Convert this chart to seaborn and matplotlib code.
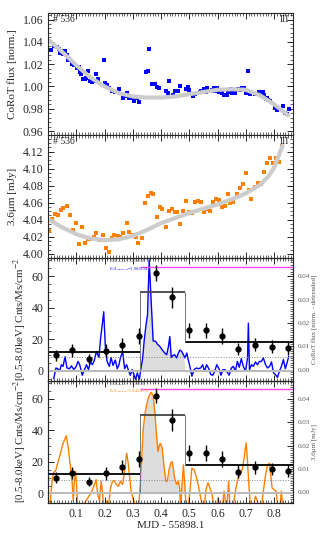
import matplotlib
matplotlib.use("Agg")
import matplotlib.pyplot as plt
from matplotlib.ticker import MultipleLocator, FixedLocator
import seaborn as sns
import numpy as np

# ---- CoRoT optical light curve (panel 1) ----
corot_t = [0.012, 0.022, 0.030, 0.038, 0.044, 0.050, 0.053, 0.060, 0.066, 0.071,
           0.083, 0.093, 0.102, 0.108, 0.113, 0.118, 0.124, 0.131, 0.136, 0.143,
           0.148, 0.155, 0.168, 0.171, 0.177, 0.197, 0.203, 0.209, 0.216, 0.228,
           0.236, 0.246, 0.251, 0.266, 0.272, 0.280, 0.287, 0.296, 0.304, 0.314,
           0.322, 0.346, 0.353, 0.358, 0.369, 0.377, 0.387, 0.394, 0.416, 0.424,
           0.428, 0.442, 0.448, 0.459, 0.466, 0.489, 0.495, 0.500, 0.512, 0.520,
           0.528, 0.537, 0.540, 0.552, 0.558, 0.564, 0.571, 0.579, 0.587, 0.591,
           0.599, 0.605, 0.611, 0.617, 0.624, 0.632, 0.637, 0.647, 0.651, 0.661,
           0.673, 0.678, 0.687, 0.695, 0.702, 0.708, 0.716, 0.733, 0.746, 0.753,
           0.760, 0.765, 0.770, 0.774, 0.780, 0.787, 0.803, 0.812, 0.819, 0.831,
           0.838, 0.845, 0.852]
corot_f = [1.0324, 1.0367, 1.0355, 1.0336, 1.0296, 1.0320, 1.0293, 1.0320, 1.0278, 1.0238,
           1.0200, 1.0190, 1.0167, 1.0173, 1.0130, 1.0115, 1.0070, 1.0070, 1.0078, 1.0137,
           1.0051, 1.0044, 1.0047, 1.0112, 1.0070, 1.0238, 1.0029, 1.0014, 0.9990, 0.9955,
           0.9946, 0.9946, 0.9977, 0.9900, 0.9916, 0.9943, 0.9894, 0.9900, 0.9870, 0.9900,
           0.9860, 1.0128, 1.0140, 1.0340, 1.0026, 1.0026, 0.9998, 0.9990, 0.9959, 0.9943,
           1.0051, 0.9919, 0.9959, 0.9959, 1.0002, 0.9977, 0.9998, 0.9965, 0.9913, 0.9934,
           0.9943, 0.9950, 0.9955, 0.9974, 0.9947, 0.9983, 0.9962, 0.9968, 0.9983, 0.9962,
           0.9986, 0.9953, 0.9971, 0.9940, 0.9925, 0.9925, 0.9950, 0.9977, 0.9943, 0.9940,
           0.9977, 0.9971, 0.9983, 0.9990, 0.9943, 1.0140, 0.9928, 0.9928, 0.9947, 0.9937,
           0.9947, 0.9922, 0.9888, 0.9900, 0.9876, 0.9870, 0.9806, 0.9784, 0.9800, 0.9824,
           0.9763, 0.9756, 0.9793]
corot_trend_t = [0.005, 0.05, 0.10, 0.15, 0.20, 0.25, 0.30, 0.35, 0.40, 0.45,
                 0.50, 0.55, 0.60, 0.65, 0.70, 0.75, 0.80, 0.85]
corot_trend_f = [1.041, 1.031, 1.019, 1.008, 1.000, 0.994, 0.991, 0.990, 0.990, 0.991,
                 0.993, 0.995, 0.997, 0.9975, 0.997, 0.992, 0.984, 0.974]

# ---- Spitzer 3.6um light curve (panel 2) ----
irac_t = [0.004, 0.014, 0.024, 0.034, 0.045, 0.054, 0.066, 0.077, 0.087, 0.099,
          0.109, 0.119, 0.130, 0.141, 0.150, 0.161, 0.171, 0.183, 0.194, 0.204,
          0.216, 0.225, 0.235, 0.246, 0.256, 0.267, 0.278, 0.288, 0.299, 0.310,
          0.320, 0.331, 0.342, 0.352, 0.363, 0.373, 0.384, 0.395, 0.405, 0.416,
          0.427, 0.437, 0.448, 0.457, 0.468, 0.479, 0.489, 0.500, 0.511, 0.521,
          0.532, 0.542, 0.552, 0.563, 0.573, 0.584, 0.595, 0.604, 0.616, 0.625,
          0.637, 0.645, 0.656, 0.668, 0.678, 0.689, 0.700, 0.710, 0.720, 0.732,
          0.742, 0.753, 0.764, 0.774, 0.785, 0.796, 0.806, 0.817, 0.827]
irac_f = [4.0263, 4.0407, 4.0473, 4.0460, 4.0511, 4.0542, 4.0558, 4.0453, 4.0283, 4.0356,
          4.0109, 4.0314, 4.0124, 4.0171, 4.0174, 4.0194, 4.0248, 4.0159, 4.0225, 4.0066,
          4.0020, 4.0182, 4.0221, 4.0213, 4.0198, 4.0244, 4.0356, 4.0256, 4.0221, 4.0194,
          4.0132, 4.0190, 4.0596, 4.0674, 4.0712, 4.0701, 4.0430, 4.0550, 4.0527, 4.0318,
          4.0507, 4.0527, 4.0488, 4.0488, 4.0349, 4.0503, 4.0623, 4.0496, 4.0480, 4.0612,
          4.0620, 4.0608, 4.0488, 4.0527, 4.0503, 4.0608, 4.0643, 4.0627, 4.0554, 4.0566,
          4.0705, 4.0593, 4.0608, 4.0705, 4.0774, 4.0825, 4.0945, 4.0755, 4.0643, 4.0790,
          4.0836, 4.0817, 4.0956, 4.1065, 4.1123, 4.1072, 4.1130, 4.1080, 4.1270]
irac_trend_t = [0.005, 0.05, 0.10, 0.15, 0.20, 0.25, 0.30, 0.35, 0.40, 0.45,
                0.50, 0.55, 0.60, 0.65, 0.70, 0.75, 0.78, 0.80, 0.83]
irac_trend_f = [4.040, 4.031, 4.023, 4.018, 4.016, 4.017, 4.021, 4.028, 4.036, 4.042,
                4.048, 4.053, 4.058, 4.064, 4.071, 4.081, 4.091, 4.101, 4.127]

# ---- detrended CoRoT (panel 3, right axis) ----
corot_dt_t = [0.020, 0.028, 0.034, 0.041, 0.047, 0.053, 0.060, 0.067, 0.076, 0.083,
              0.091, 0.098, 0.106, 0.112, 0.121, 0.129, 0.136, 0.143, 0.150, 0.157,
              0.164, 0.171, 0.180, 0.186, 0.191, 0.197, 0.203, 0.209, 0.217, 0.223,
              0.230, 0.238, 0.245, 0.251, 0.256, 0.264, 0.271, 0.278, 0.284, 0.291,
              0.298, 0.304, 0.310, 0.316, 0.323, 0.329, 0.335, 0.340, 0.346, 0.352,
              0.358, 0.365, 0.372, 0.381, 0.387, 0.396, 0.404, 0.413, 0.420, 0.426,
              0.431, 0.436, 0.442, 0.448, 0.455, 0.461, 0.467, 0.473, 0.479, 0.485,
              0.491, 0.496, 0.502, 0.509, 0.517, 0.525, 0.532, 0.540, 0.547, 0.554,
              0.561, 0.569, 0.576, 0.583, 0.590, 0.597, 0.605, 0.612, 0.619, 0.626,
              0.634, 0.641, 0.649, 0.656, 0.663, 0.670, 0.677, 0.684, 0.691, 0.699,
              0.706, 0.709, 0.713, 0.720, 0.727, 0.734, 0.741, 0.748, 0.755, 0.762,
              0.770, 0.777, 0.784, 0.791, 0.798, 0.805, 0.812, 0.819, 0.826, 0.833,
              0.840, 0.848, 0.852]
corot_dt_f = [-0.0038, 0.0007, 0.0004, -0.0007, 0.0021, 0.0014, 0.0055, 0.0007, 0.0004, 0.0016,
              0.0001, 0.0010, 0.0035, 0.0021, -0.0024, 0.0000, 0.0021, 0.0000, 0.0033, 0.0021,
              0.0040, 0.0078, 0.0052, 0.0135, 0.0184, 0.0248, 0.0092, 0.0035, 0.0014, 0.0052,
              0.0018, 0.0041, 0.0004, 0.0021, 0.0050, 0.0078, 0.0004, 0.0021, -0.0001, -0.0024,
              0.0000, -0.0021, -0.0043, -0.0014, -0.0043, 0.0007, 0.0050, 0.0121, 0.0184, 0.0234,
              0.0470, 0.0291, 0.0123, 0.0121, 0.0109, 0.0099, 0.0085, 0.0071, 0.0064, 0.0099,
              0.0142, 0.0052, 0.0061, 0.0064, 0.0050, 0.0071, 0.0084, 0.0078, 0.0064, 0.0050,
              0.0071, 0.0043, 0.0014, -0.0028, 0.0000, 0.0007, 0.0004, 0.0007, 0.0021, -0.0007,
              0.0021, 0.0004, -0.0021, -0.0024, -0.0007, 0.0021, 0.0004, -0.0024, 0.0000, 0.0000,
              -0.0010, -0.0024, 0.0007, 0.0014, -0.0007, 0.0035, 0.0010, 0.0047, 0.0014, -0.0007,
              0.0050, 0.0199, 0.0000, 0.0021, 0.0014, 0.0033, 0.0021, 0.0035, 0.0035, 0.0050,
              0.0021, 0.0007, 0.0014, 0.0033, -0.0014, -0.0021, -0.0033, -0.0007, 0.0014, 0.0043,
              0.0004, 0.0038, 0.0057]

# ---- detrended 3.6um (panel 4, right axis) ----
irac_dt_t = [0.006, 0.014, 0.020, 0.026, 0.034, 0.044, 0.053, 0.064, 0.071, 0.077,
             0.082, 0.085, 0.089, 0.093, 0.098, 0.102, 0.105, 0.110, 0.115, 0.121,
             0.126, 0.134, 0.141, 0.148, 0.155, 0.162, 0.170, 0.176, 0.182, 0.188,
             0.193, 0.197, 0.207, 0.215, 0.221, 0.228, 0.235, 0.242, 0.249, 0.256,
             0.264, 0.271, 0.278, 0.283, 0.288, 0.294, 0.300, 0.306, 0.313, 0.320,
             0.327, 0.332, 0.337, 0.344, 0.351, 0.358, 0.365, 0.372, 0.378, 0.384,
             0.389, 0.394, 0.398, 0.404, 0.410, 0.417, 0.422, 0.428, 0.434, 0.439,
             0.443, 0.448, 0.455, 0.461, 0.466, 0.469, 0.474, 0.479, 0.483, 0.488,
             0.495, 0.502, 0.509, 0.517, 0.524, 0.531, 0.538, 0.545, 0.552, 0.559,
             0.566, 0.573, 0.580, 0.587, 0.595, 0.602, 0.609, 0.616, 0.623, 0.628,
             0.632, 0.639, 0.644, 0.651, 0.658, 0.665, 0.673, 0.680, 0.687, 0.694,
             0.701, 0.706, 0.710, 0.715, 0.720, 0.727, 0.734, 0.741, 0.748, 0.755,
             0.762, 0.770, 0.777, 0.784, 0.788, 0.793, 0.800, 0.807, 0.812, 0.819,
             0.826, 0.831]
irac_dt_f = [-0.0066, 0.0047, 0.0086, 0.0089, 0.0124, 0.0167, 0.0209, 0.0242, 0.0195, 0.0131,
             0.0082, 0.0047, -0.0038, 0.0047, 0.0089, 0.0004, -0.0081, -0.0095, -0.0081, -0.0066,
             -0.0052, -0.0038, -0.0024, -0.0010, 0.0004, 0.0025, 0.0054, -0.0010, -0.0038, 0.0047,
             -0.0003, -0.0066, -0.0038, -0.0052, 0.0018, 0.0047, 0.0049, 0.0033, 0.0025, 0.0047,
             0.0033, 0.0089, 0.0167, 0.0131, 0.0075, 0.0004, -0.0024, -0.0045, -0.0081, -0.0081,
             0.0047, 0.0160, 0.0273, 0.0343, 0.0386, 0.0414, 0.0428, 0.0414, 0.0343, 0.0245,
             0.0174, 0.0202, 0.0209, 0.0188, 0.0117, 0.0047, 0.0047, 0.0096, 0.0124, 0.0131,
             0.0103, 0.0061, 0.0033, 0.0047, 0.0018, -0.0081, 0.0033, 0.0117, 0.0047, -0.0052,
             -0.0081, 0.0004, 0.0103, 0.0096, 0.0068, 0.0033, -0.0010, -0.0052, -0.0081, 0.0011,
             0.0040, 0.0018, -0.0010, -0.0052, -0.0066, -0.0024, -0.0066, -0.0081, 0.0004, -0.0038,
             -0.0081, 0.0047, -0.0066, -0.0081, -0.0038, 0.0018, 0.0061, 0.0075, 0.0096, 0.0146,
             0.0212, 0.0131, 0.0047, -0.0038, -0.0081, -0.0066, -0.0017, -0.0038, -0.0081, -0.0066,
             0.0004, 0.0075, 0.0117, 0.0124, 0.0075, 0.0018, 0.0011, 0.0004, -0.0052, -0.0081,
             0.0004, -0.0081]

# ---- X-ray binned rate + Bayesian blocks (panels 3/4, left axis) ----
xray_t = [0.027, 0.086, 0.145, 0.204, 0.263, 0.321, 0.381, 0.440, 0.499, 0.558,
          0.616, 0.674, 0.734, 0.793, 0.851]
xray_rate = [10.0, 12.9, 7.5, 12.7, 16.5, 21.9, 62.0, 46.5, 25.6, 25.6,
             21.9, 13.8, 16.5, 15.4, 14.2]
xray_err = [3.5, 4.0, 3.0, 4.0, 4.5, 5.0, 5.0, 6.8, 5.0, 5.0, 5.0, 4.0, 4.0, 4.0, 4.0]
block_edges = [0.0, 0.327, 0.483, 0.867]
block_rates = [12.0, 50.0, 18.0]
quiescent_level = 8.5
flare_peak_level = 65.9

xlim = (0.0, 0.867)
xticks = [0.1, 0.2, 0.3, 0.4, 0.5, 0.6, 0.7, 0.8]

sns.set_style("ticks")
plt.rcParams["font.family"] = ["Liberation Serif", "DejaVu Serif"]
plt.rcParams["mathtext.fontset"] = "stix"
plt.rcParams["xtick.direction"] = "in"
plt.rcParams["ytick.direction"] = "in"
plt.rcParams["axes.linewidth"] = 0.8

fig, axes = plt.subplots(4, 1, figsize=(3.27, 5.37), dpi=100, sharex=True)
fig.subplots_adjust(left=0.147, right=0.896, top=0.976, bottom=0.063, hspace=0)


def style_ticks(ax, right=True):
    ax.xaxis.set_major_locator(FixedLocator(xticks))
    ax.xaxis.set_minor_locator(MultipleLocator(0.01))
    ax.tick_params(which="both", top=True, right=right, labelsize=8.5)
    ax.tick_params(which="major", length=4, width=0.7)
    ax.tick_params(which="minor", length=2, width=0.5)


# panel 1
ax = axes[0]
sns.lineplot(x=corot_trend_t, y=corot_trend_f, ax=ax, color="#cccccc", lw=3.0)
sns.scatterplot(x=corot_t, y=corot_f, ax=ax, color="blue", marker="s", s=5.5,
                linewidth=0)
ax.set_ylim(0.956, 1.066)
ax.yaxis.set_major_locator(MultipleLocator(0.02))
ax.yaxis.set_minor_locator(MultipleLocator(0.004))
ax.set_ylabel("CoRoT flux [norm.]", fontsize=8)
ax.text(0.02, 0.985, "# 536", transform=ax.transAxes, ha="left", va="top", fontsize=7)
ax.text(0.985, 0.985, "III", transform=ax.transAxes, ha="right", va="top", fontsize=7)
style_ticks(ax)

# panel 2
ax = axes[1]
sns.lineplot(x=irac_trend_t, y=irac_trend_f, ax=ax, color="#cccccc", lw=3.0)
sns.scatterplot(x=irac_t, y=irac_f, ax=ax, color="#ff8000", marker="s", s=5.5,
                linewidth=0)
ax.set_ylim(3.995, 4.139)
ax.yaxis.set_major_locator(MultipleLocator(0.02))
ax.yaxis.set_minor_locator(MultipleLocator(0.005))
ax.set_ylabel("3.6μm [mJy]", fontsize=8)
ax.text(0.02, 0.985, "# 536", transform=ax.transAxes, ha="left", va="top", fontsize=7)
ax.text(0.985, 0.985, "III", transform=ax.transAxes, ha="right", va="top", fontsize=7)
style_ticks(ax)


def xray_panel(ax, lc_t, lc_f, color, right_label, ratio_text):
    axr = ax.twinx()
    t = np.array(lc_t)
    f = np.array(lc_f)
    flare = (t >= block_edges[1]) & (t <= block_edges[2])
    axr.fill_between(t, 0, f, where=flare, color="#dddddd", lw=0, interpolate=True)
    sns.lineplot(x=lc_t, y=lc_f, ax=axr, color=color, lw=1.0)
    axr.set_ylim(-0.0047, 0.0478)
    axr.yaxis.set_major_locator(MultipleLocator(0.01))
    axr.yaxis.set_minor_locator(MultipleLocator(0.001))
    axr.tick_params(which="both", direction="in", labelsize=5, labelcolor="#555555")
    axr.tick_params(which="major", length=4, width=0.7)
    axr.tick_params(which="minor", length=2, width=0.5)
    axr.set_ylabel(right_label, fontsize=5, color="#555555", labelpad=1)

    ax.set_zorder(axr.get_zorder() + 1)
    ax.patch.set_visible(False)
    ax.axhline(0, color="#bbbbbb", lw=1.5, zorder=1)
    ax.axhline(quiescent_level, color="#888888", lw=0.7, ls=":", zorder=1)
    ax.hlines(flare_peak_level, block_edges[1], xlim[1], color="#ff44ff", lw=1.0)
    # Bayesian blocks
    ax.hlines(block_rates[0], block_edges[0], block_edges[1], color="black", lw=1.3)
    ax.hlines(block_rates[2], block_edges[2], block_edges[3], color="black", lw=1.3)
    ax.hlines(block_rates[1], block_edges[1], block_edges[2], color="#444444", lw=1.3)
    ax.vlines(block_edges[1], 0, block_rates[1], color="#777777", lw=0.7)
    ax.vlines(block_edges[2], block_rates[2], block_rates[1], color="#777777", lw=0.7)
    ax.errorbar(xray_t, xray_rate, yerr=xray_err, fmt="o", color="black", ms=3.5,
                elinewidth=1.0, capsize=0)
    ax.set_ylim(-6.2, 71.5)
    ax.yaxis.set_major_locator(MultipleLocator(20))
    ax.yaxis.set_minor_locator(MultipleLocator(5))
    ax.set_ylabel(r"[0.5-8.0keV] Cnts/Ms/cm$^{-2}$", fontsize=7.8, labelpad=2)
    ax.text(0.217, 71.3, r"E$_{fl}$/L$_{peak,X}$=1.65±0.08", fontsize=3,
            color="#666666", va="top")
    ax.text(0.217, 66.6, ratio_text, fontsize=3, color=color, va="top")
    style_ticks(ax, right=False)
    return axr


xray_panel(axes[2], corot_dt_t, corot_dt_f, "blue", "CoRoT flux [norm. - detrended]",
           r"E$_{fl}$/L$_{peak,opt}$=3.90±1.14")
xray_panel(axes[3], irac_dt_t, irac_dt_f, "#ff8000", "3.6μm [mJy]",
           r"E$_{fl}$/L$_{peak,IR}$=18.41±0.76")

axes[3].set_xlim(*xlim)
axes[3].set_xlabel("MJD - 55898.1", fontsize=8, labelpad=1)

plt.savefig("out.png", dpi=100)
